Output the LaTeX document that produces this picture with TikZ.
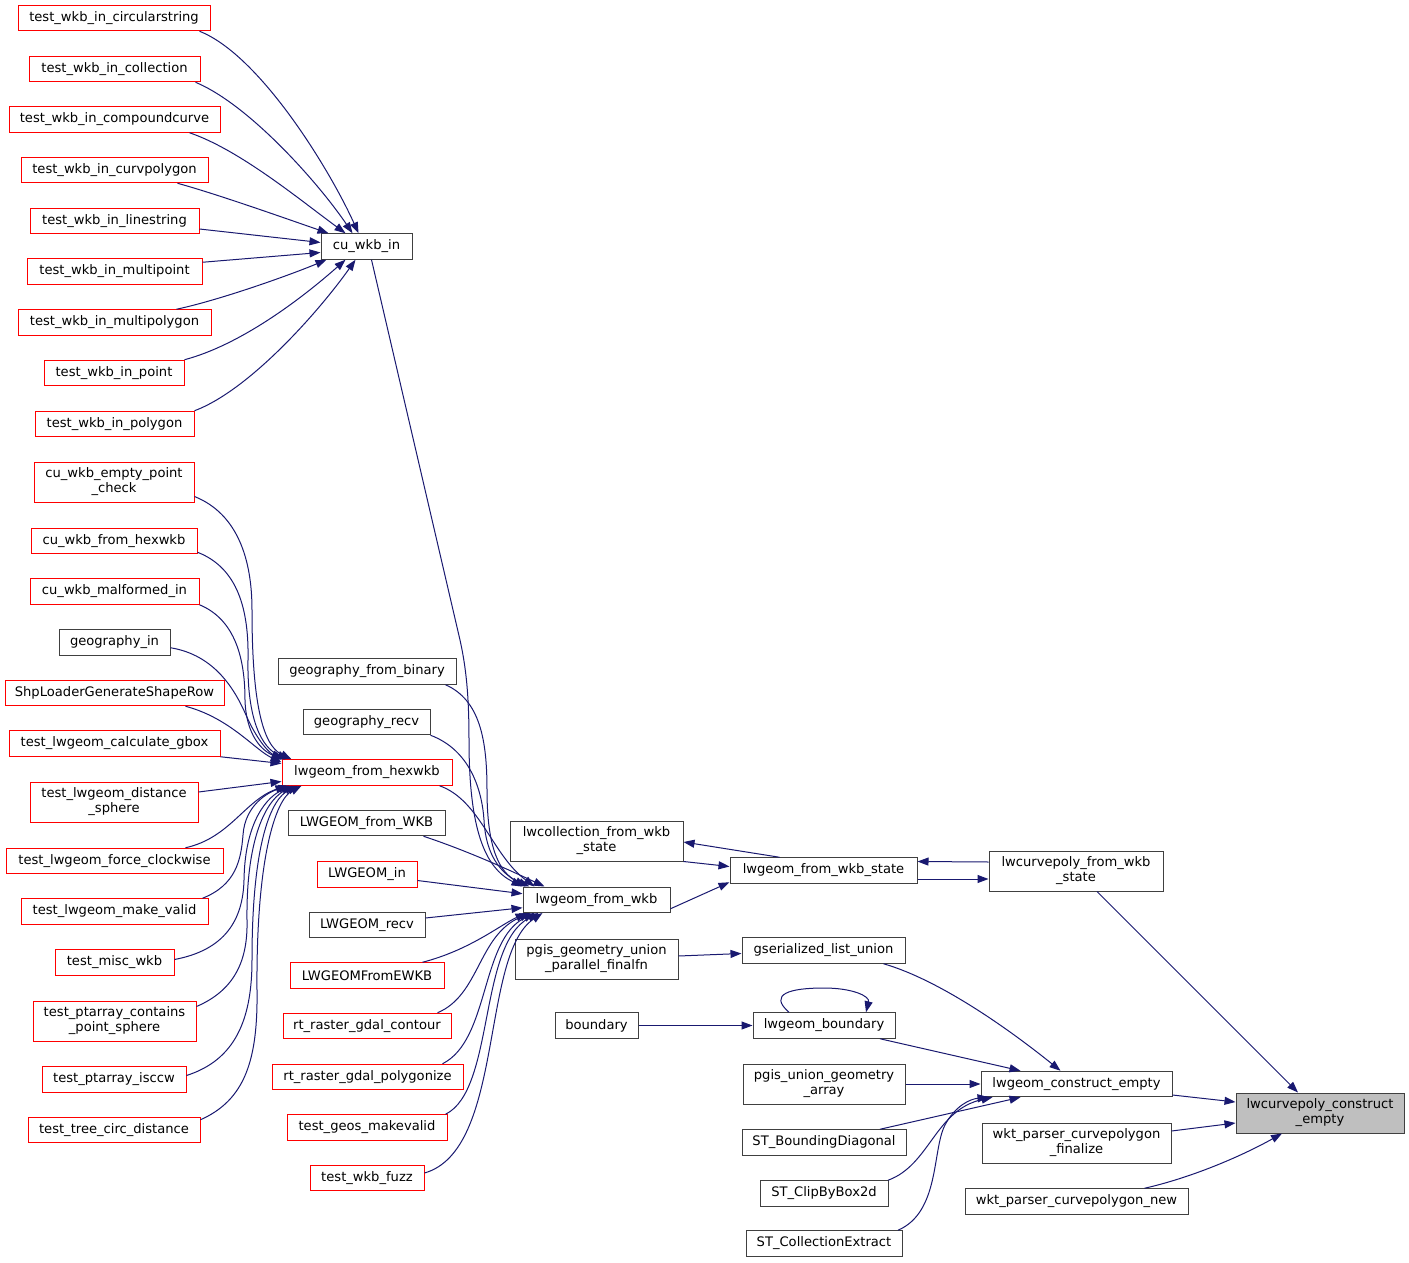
\documentclass[tikz,border=0pt]{standalone}
\usepackage{fontspec}
\setmainfont{DejaVu Sans}
\usetikzlibrary{arrows.meta}
\definecolor{edgec}{HTML}{191970}
\definecolor{framec}{HTML}{404040}
\definecolor{redc}{HTML}{FF0000}
\definecolor{rootc}{HTML}{BFBFBF}
\begin{document}
\begin{tikzpicture}[x=1pt,y=-1pt,
  box/.style={draw=framec, fill=white, line width=1pt, minimum height=25.5pt, inner sep=2pt,
    font=\fontsize{13.1}{15}\selectfont, align=center},
  rbox/.style={box, draw=redc},
  two/.style={minimum height=40pt},
  edge/.style={draw=edgec, line width=1pt, -{Triangle[length=11pt,width=8pt]}}
]
\useasboundingbox[fill=white] (0,0) rectangle (1409,1263);

% left column: callers of cu_wkb_in
\node[rbox, minimum width=192pt] (t1) at (114,18) {test\_wkb\_in\_circularstring};
\node[rbox, minimum width=171pt] (t2) at (114.5,69) {test\_wkb\_in\_collection};
\node[rbox, minimum width=211pt] (t3) at (114.5,119.5) {test\_wkb\_in\_compoundcurve};
\node[rbox, minimum width=187pt] (t4) at (114.5,170) {test\_wkb\_in\_curvpolygon};
\node[rbox, minimum width=169pt] (t5) at (114.5,221) {test\_wkb\_in\_linestring};
\node[rbox, minimum width=175pt] (t6) at (114.5,271.5) {test\_wkb\_in\_multipoint};
\node[rbox, minimum width=193pt] (t7) at (114.5,322.5) {test\_wkb\_in\_multipolygon};
\node[rbox, minimum width=140pt] (t8) at (114,373) {test\_wkb\_in\_point};
\node[rbox, minimum width=159pt] (t9) at (114.5,424) {test\_wkb\_in\_polygon};

% left column: callers of lwgeom_from_hexwkb
\node[rbox, two, minimum width=160pt] (h1) at (114,482) {cu\_wkb\_empty\_point\\\_check};
\node[rbox, minimum width=166pt] (h2) at (114,541) {cu\_wkb\_from\_hexwkb};
\node[rbox, minimum width=169pt] (h3) at (114.5,591.5) {cu\_wkb\_malformed\_in};
\node[box, minimum width=111pt] (h4) at (114.5,642.5) {geography\_in};
\node[rbox, minimum width=219pt] (h5) at (114.5,693) {ShpLoaderGenerateShapeRow};
\node[rbox, minimum width=211pt] (h6) at (114.5,743.5) {test\_lwgeom\_calculate\_gbox};
\node[rbox, two, minimum width=168pt] (h7) at (114,802) {test\_lwgeom\_distance\\\_sphere};
\node[rbox, minimum width=217pt] (h8) at (114.5,861) {test\_lwgeom\_force\_clockwise};
\node[rbox, minimum width=187pt] (h9) at (114.5,911.5) {test\_lwgeom\_make\_valid};
\node[rbox, minimum width=119pt] (h10) at (114.5,962.5) {test\_misc\_wkb};
\node[rbox, two, minimum width=163pt] (h11) at (114.5,1021) {test\_ptarray\_contains\\\_point\_sphere};
\node[rbox, minimum width=144pt] (h12) at (114,1079.5) {test\_ptarray\_isccw};
\node[rbox, minimum width=172pt] (h13) at (114,1130) {test\_tree\_circ\_distance};

% second column
\node[box, minimum width=91pt] (cu) at (366.5,246.5) {cu\_wkb\_in};
\node[box, minimum width=178pt] (g1) at (367,671.5) {geography\_from\_binary};
\node[box, minimum width=127pt] (g2) at (366.5,722) {geography\_recv};
\node[rbox, minimum width=170pt] (hex) at (367,772.5) {lwgeom\_from\_hexwkb};
\node[box, minimum width=157pt] (w1) at (366.5,823) {LWGEOM\_from\_WKB};
\node[rbox, minimum width=100pt] (w2) at (367,874.5) {LWGEOM\_in};
\node[box, minimum width=116pt] (w3) at (367,925) {LWGEOM\_recv};
\node[rbox, minimum width=154pt] (w4) at (367,975.5) {LWGEOMFromEWKB};
\node[rbox, minimum width=168pt] (w5) at (367,1026) {rt\_raster\_gdal\_contour};
\node[rbox, minimum width=191pt] (w6) at (367.5,1077) {rt\_raster\_gdal\_polygonize};
\node[rbox, minimum width=160pt] (w7) at (367,1127.5) {test\_geos\_makevalid};
\node[rbox, minimum width=114pt] (w8) at (367,1178) {test\_wkb\_fuzz};

% third column
\node[box, two, minimum width=173pt] (lwcoll) at (596.5,841) {lwcollection\_from\_wkb\\\_state};
\node[box, minimum width=147pt] (lfw) at (596.5,899.75) {lwgeom\_from\_wkb};
\node[box, two, minimum width=163pt] (pgisfin) at (596.5,959) {pgis\_geometry\_union\\\_parallel\_finalfn};
\node[box, minimum width=83pt] (bnd) at (596.5,1025.5) {boundary};

% fourth column
\node[box, minimum width=187pt] (lfws) at (823.5,870.5) {lwgeom\_from\_wkb\_state};
\node[box, minimum width=163pt] (gsl) at (823.5,950.5) {gserialized\_list\_union};
\node[box, minimum width=142pt] (lwb) at (824,1025.5) {lwgeom\_boundary};
\node[box, two, minimum width=162pt] (pua) at (824,1084) {pgis\_union\_geometry\\\_array};
\node[box, minimum width=164pt] (stb) at (824,1142.5) {ST\_BoundingDiagonal};
\node[box, minimum width=128pt] (stc) at (824,1193.5) {ST\_ClipByBox2d};
\node[box, minimum width=156pt] (ste) at (824,1243.5) {ST\_CollectionExtract};

% fifth column
\node[box, two, minimum width=174pt] (lcfws) at (1076,871) {lwcurvepoly\_from\_wkb\\\_state};
\node[box, minimum width=191pt] (lce) at (1076.5,1084) {lwgeom\_construct\_empty};
\node[box, two, minimum width=189pt] (wpf) at (1076.5,1143) {wkt\_parser\_curvepolygon\\\_finalize};
\node[box, minimum width=223pt] (wpn) at (1076.5,1201.5) {wkt\_parser\_curvepolygon\_new};

% root
\node[box, two, fill=rootc, minimum width=168pt] (lcce) at (1320,1113) {lwcurvepoly\_construct\\\_empty};

% edges into cu_wkb_in
\draw[edge] ([xshift=-11pt]t1.south east) .. controls (260,55) and (330,170) .. ([xshift=38pt]cu.north west);
\draw[edge] ([xshift=-5pt]t2.south east) .. controls (250,105) and (320,185) .. ([xshift=32pt]cu.north west);
\draw[edge] ([xshift=-31pt]t3.south east) .. controls (240,150) and (300,200) .. ([xshift=25pt]cu.north west);
\draw[edge] ([xshift=-31pt]t4.south east) .. controls (220,195) and (290,220) .. ([xshift=8pt]cu.north west);
\draw[edge] ([yshift=-8pt]t5.east) -- ([yshift=4pt]cu.west);
\draw[edge] ([yshift=-4pt]t6.north east) -- ([yshift=-6pt]cu.west);
\draw[edge] ([xshift=-35pt]t7.north east) .. controls (220,300) and (290,275) .. ([xshift=6pt]cu.south west);
\draw[edge] (t8.north east) .. controls (240,345) and (300,300) .. ([xshift=25pt]cu.south west);
\draw[edge] (t9.north east) .. controls (250,390) and (320,310) .. ([xshift=35pt]cu.south west);

% edges into lwgeom_from_hexwkb
\draw[edge] ([yshift=6pt]h1.south east) .. controls (238,514) and (252,560) .. (252,610) .. controls (252,700) and (262,745) .. ([xshift=10pt]hex.north west);
\draw[edge] ([yshift=2pt]h2.south east) .. controls (238,568) and (249,610) .. (248,660) .. controls (247,720) and (262,748) .. ([xshift=7pt]hex.north west);
\draw[edge] (h3.south east) .. controls (236,620) and (245,660) .. (245,700) .. controls (246,735) and (262,752) .. ([xshift=4pt]hex.north west);
\draw[edge] ([yshift=8pt]h4.south east) .. controls (215,655) and (235,690) .. (246,715) .. controls (256,738) and (268,752) .. ([xshift=1pt]hex.north west);
\draw[edge] ([xshift=71pt]h5.south) .. controls (230,718) and (255,750) .. ([yshift=-3pt]hex.north west);
\draw[edge] (h6.south east) -- ([yshift=9pt]hex.west);
\draw[edge] ([yshift=10pt]h7.east) -- ([yshift=-9pt]hex.west);
\draw[edge] ([xshift=-38pt]h8.north east) .. controls (230,838) and (245,800) .. ([xshift=5pt]hex.south west);
\draw[edge] ([xshift=-6pt]h9.north east) .. controls (236,885) and (241,860) .. (243,835) .. controls (245,805) and (268,792) .. ([xshift=8pt]hex.south west);
\draw[edge] ([yshift=3pt]h10.east) .. controls (225,950) and (243,920) .. (244,880) .. controls (245,820) and (268,796) .. ([xshift=11pt]hex.south west);
\draw[edge] ([yshift=-6pt]h11.north east) .. controls (235,990) and (248,960) .. (247,920) .. controls (246,830) and (270,797) .. ([xshift=14pt]hex.south west);
\draw[edge] ([yshift=4pt]h12.east) .. controls (235,1060) and (252,1020) .. (252,960) .. controls (252,840) and (272,798) .. ([xshift=17pt]hex.south west);
\draw[edge] ([yshift=-3pt]h13.north east) .. controls (245,1100) and (258,1060) .. (257,990) .. controls (256,860) and (275,800) .. ([xshift=20pt]hex.south west);

% edges into lwgeom_from_wkb
\draw[edge] ([xshift=5pt]cu.south) -- (460,640) .. controls (466,667) and (469,695) .. (469,740) .. controls (469,830) and (485,868) .. (lfw.north west);
\draw[edge] ([xshift=-11pt]g1.south east) .. controls (480,700) and (487,740) .. (487,790) .. controls (487,850) and (500,872) .. ([xshift=3pt]lfw.north west);
\draw[edge] (g2.south east) .. controls (470,750) and (482,790) .. (484,820) .. controls (486,860) and (505,876) .. ([xshift=7pt]lfw.north west);
\draw[edge] ([xshift=-13pt]hex.south east) .. controls (480,800) and (492,855) .. ([xshift=12pt]lfw.north west);
\draw[edge] ([xshift=-22pt]w1.south east) .. controls (465,850) and (505,868) .. ([xshift=22pt]lfw.north west);
\draw[edge] ([yshift=-6pt]w2.east) -- ([yshift=6pt]lfw.west);
\draw[edge] ([yshift=7pt]w3.east) -- ([yshift=-8pt]lfw.west);
\draw[edge] ([xshift=-22pt]w4.north east) .. controls (470,950) and (500,925) .. ([xshift=4pt]lfw.south west);
\draw[edge] ([xshift=-14pt]w5.north east) .. controls (480,995) and (478,935) .. ([xshift=8pt]lfw.south west);
\draw[edge] ([xshift=-21pt]w6.north east) .. controls (490,1040) and (480,940) .. ([xshift=12pt]lfw.south west);
\draw[edge] ([xshift=-2pt]w7.north east) .. controls (495,1090) and (478,945) .. ([xshift=16pt]lfw.south west);
\draw[edge] ([yshift=5pt]w8.east) .. controls (505,1150) and (480,955) .. ([xshift=20pt]lfw.south west);

% wkb state cluster
\draw[edge] ([yshift=-9pt]lfw.east) -- ([yshift=1.5pt]lfws.south west);
\draw[edge] (lwcoll.south east) -- ([yshift=4pt]lfws.west);
\draw[edge] ([xshift=-44pt]lfws.north) -- ([yshift=-1pt]lwcoll.east);
\draw[edge] ([yshift=9pt]lcfws.west) -- ([yshift=9pt]lfws.east);
\draw[edge] ([yshift=-8.5pt]lfws.east) -- ([yshift=-8pt]lcfws.west);
\draw[edge] ([xshift=21pt]lcfws.south) -- ([xshift=-22pt]lcce.north);

% construct empty cluster
\draw[edge] ([yshift=3pt]pgisfin.east) -- ([yshift=-3pt]gsl.west);
\draw[edge] ([xshift=60pt]gsl.south) .. controls (940,980) and (1010,1030) .. ([xshift=-16pt]lce.north);
\draw[edge] (bnd.east) -- (lwb.west);
\draw[edge] ([xshift=-35pt]lwb.north) .. controls (768,994) and (790,988) .. (824,988) .. controls (852,988) and (870,996) .. ([xshift=42pt]lwb.north);
\draw[edge] ([xshift=56pt]lwb.south) -- ([xshift=-56pt]lce.north);
\draw[edge] (pua.east) -- (lce.west);
\draw[edge] ([xshift=56pt]stb.north) -- ([xshift=-56pt]lce.south);
\draw[edge] ([xshift=64pt]stc.north) .. controls (930,1165) and (935,1110) .. ([xshift=-84pt]lce.south);
\draw[edge] ([xshift=74pt]ste.north) .. controls (940,1212) and (932,1150) .. (945,1125) .. controls (955,1106) and (970,1099) .. ([xshift=-88pt]lce.south);

% into root
\draw[edge] ([yshift=-11pt]lce.east) -- ([yshift=11pt]lcce.west);
\draw[edge] ([yshift=12pt]wpf.east) -- ([yshift=-10pt]lcce.west);
\draw[edge] ([xshift=68pt]wpn.north) .. controls (1190,1178) and (1240,1157) .. ([xshift=-38pt]lcce.south);
\end{tikzpicture}
\end{document}
